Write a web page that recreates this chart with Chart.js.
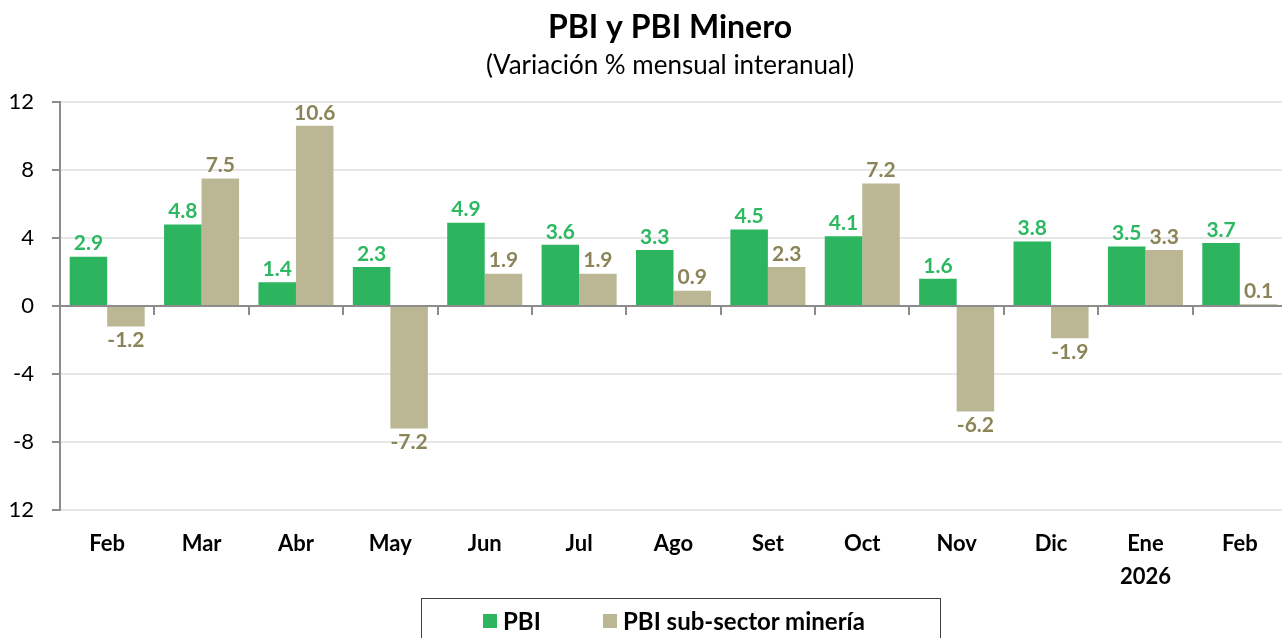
<!DOCTYPE html>
<html>
<head>
<meta charset="utf-8">
<title>PBI y PBI Minero</title>
<script src="https://cdn.jsdelivr.net/npm/chart.js@4.4.1/dist/chart.umd.min.js"></script>
<style>
    html, body { margin: 0; padding: 0; background: #fff; overflow: hidden; }
    #wrap { position: relative; width: 1282px; height: 638px; overflow: hidden; }
    #chart { position: absolute; left: 0; top: 0; }
    #legend {
        position: absolute; left: 421px; top: 598px; width: 520px; height: 60px;
        border: 1.5px solid #3f3f3f; box-sizing: border-box;
        font-family: Lato, sans-serif; font-weight: bold; font-size: 24px; color: #000;
    }
    #legend .item { position: absolute; top: 9px; display: flex; align-items: center; line-height: 26px; white-space: nowrap; }
    #legend .box { width: 14px; height: 14px; margin-right: 6px; }
</style>
</head>
<body>
<div id="wrap">
    <canvas id="chart" width="1340" height="638"></canvas>
    <div id="legend"></div>
</div>
<script>
// PBI y PBI Minero - variación % mensual interanual

const months = ['Feb', 'Mar', 'Abr', 'May', 'Jun', 'Jul', 'Ago', 'Set', 'Oct', 'Nov', 'Dic', ['Ene', '2026'], 'Feb'];
const pbiValues = [2.9, 4.8, 1.4, 2.3, 4.9, 3.6, 3.3, 4.5, 4.1, 1.6, 3.8, 3.5, 3.7];
const mineriaValues = [-1.2, 7.5, 10.6, -7.2, 1.9, 1.9, 0.9, 2.3, 7.2, -6.2, -1.9, 3.3, 0.1];
const yTickValues = [-12, -8, -4, 0, 4, 8, 12];
const yTickLabels = ['12', '-8', '-4', '0', '4', '8', '12'];

const GREEN = '#2cb45f';
const TAN = '#bbb794';
const AXIS_GRAY = '#8c8c8c';

Chart.defaults.font.family = 'Lato';
Chart.defaults.color = '#000';

// value labels above / below each bar
const barLabels = {
    id: 'barLabels',
    afterDatasetsDraw(chart) {
        const ctx = chart.ctx;
        ctx.save();
        ctx.font = 'bold 21px Lato';
        ctx.textAlign = 'center';
        ctx.textBaseline = 'middle';
        chart.data.datasets.forEach((ds, i) => {
            const meta = chart.getDatasetMeta(i);
            ctx.fillStyle = ds.labelColor;
            meta.data.forEach((bar, j) => {
                const v = ds.data[j];
                const y = v >= 0 ? bar.y - 13 : bar.y + 14;
                ctx.fillText(v.toFixed(1), bar.x, y);
            });
        });
        ctx.restore();
    }
};

const ctx = document.getElementById('chart').getContext('2d');

const chart = new Chart(ctx, {
    type: 'bar',
    data: {
        labels: months,
        datasets: [
            {
                label: 'PBI',
                data: pbiValues,
                backgroundColor: GREEN,
                labelColor: '#2db862',
                categoryPercentage: 0.795,
                barPercentage: 1.0
            },
            {
                label: 'PBI sub-sector minería',
                data: mineriaValues,
                backgroundColor: TAN,
                labelColor: '#8a8458',
                categoryPercentage: 0.795,
                barPercentage: 1.0
            }
        ]
    },
    options: {
        responsive: false,
        animation: false,
        devicePixelRatio: 1,
        plugins: {
            legend: { display: false },
            tooltip: { enabled: false },
            title: {
                display: true,
                text: 'PBI y PBI Minero',
                color: '#000',
                font: { size: 32, weight: 'bold' },
                padding: { top: 8, bottom: 4 }
            },
            subtitle: {
                display: true,
                text: '(Variación % mensual interanual)',
                color: '#000',
                font: { size: 26 },
                padding: { top: 0, bottom: 20.4 }
            }
        },
        scales: {
            x: {
                position: 'bottom',
                grid: { display: false, drawTicks: false },
                border: { display: false },
                ticks: {
                    color: '#000',
                    font: { size: 22, weight: 'bold', lineHeight: 1.5 },
                    padding: 17,
                    maxRotation: 0,
                    autoSkip: false
                },
                afterFit: function(scale) { scale.height = 128; }
            },
            // zero line with tick marks between categories
            xZero: {
                type: 'category',
                axis: 'x',
                labels: months,
                position: { y: 0 },
                offset: true,
                grid: {
                    offset: true,
                    drawOnChartArea: false,
                    drawTicks: true,
                    tickLength: 8,
                    color: AXIS_GRAY,
                    lineWidth: 2
                },
                border: { display: true, color: AXIS_GRAY, width: 2 },
                ticks: { display: false }
            },
            y: {
                min: -12,
                max: 12,
                afterBuildTicks: function(scale) {
                    scale.ticks = yTickValues.map(v => ({ value: v }));
                },
                grid: {
                    color: '#e6e6e6',
                    lineWidth: 2,
                    tickColor: AXIS_GRAY,
                    tickLength: 8
                },
                border: { display: true, color: AXIS_GRAY, width: 2 },
                ticks: {
                    color: '#000',
                    font: { size: 22 },
                    padding: 18,
                    callback: function(value) {
                        const i = yTickValues.indexOf(value);
                        return i >= 0 ? yTickLabels[i] : '';
                    }
                },
                afterFit: function(scale) { scale.width = 60; }
            },
            // empty right-hand space so the title is centred like the original
            yPad: {
                position: 'right',
                display: true,
                grid: { display: false, drawTicks: false },
                border: { display: false },
                ticks: { display: false },
                afterFit: function(scale) { scale.width = 53; }
            }
        }
    },
    plugins: [barLabels]
});

// HTML legend built from the datasets
const legendEl = document.getElementById('legend');
const legendLefts = [61, 181];
chart.data.datasets.forEach((ds, i) => {
    const item = document.createElement('div');
    item.className = 'item';
    item.style.left = legendLefts[i] + 'px';
    const box = document.createElement('span');
    box.className = 'box';
    box.style.background = ds.backgroundColor;
    const text = document.createElement('span');
    text.textContent = ds.label;
    item.appendChild(box);
    item.appendChild(text);
    legendEl.appendChild(item);
});
</script>
</body>
</html>
